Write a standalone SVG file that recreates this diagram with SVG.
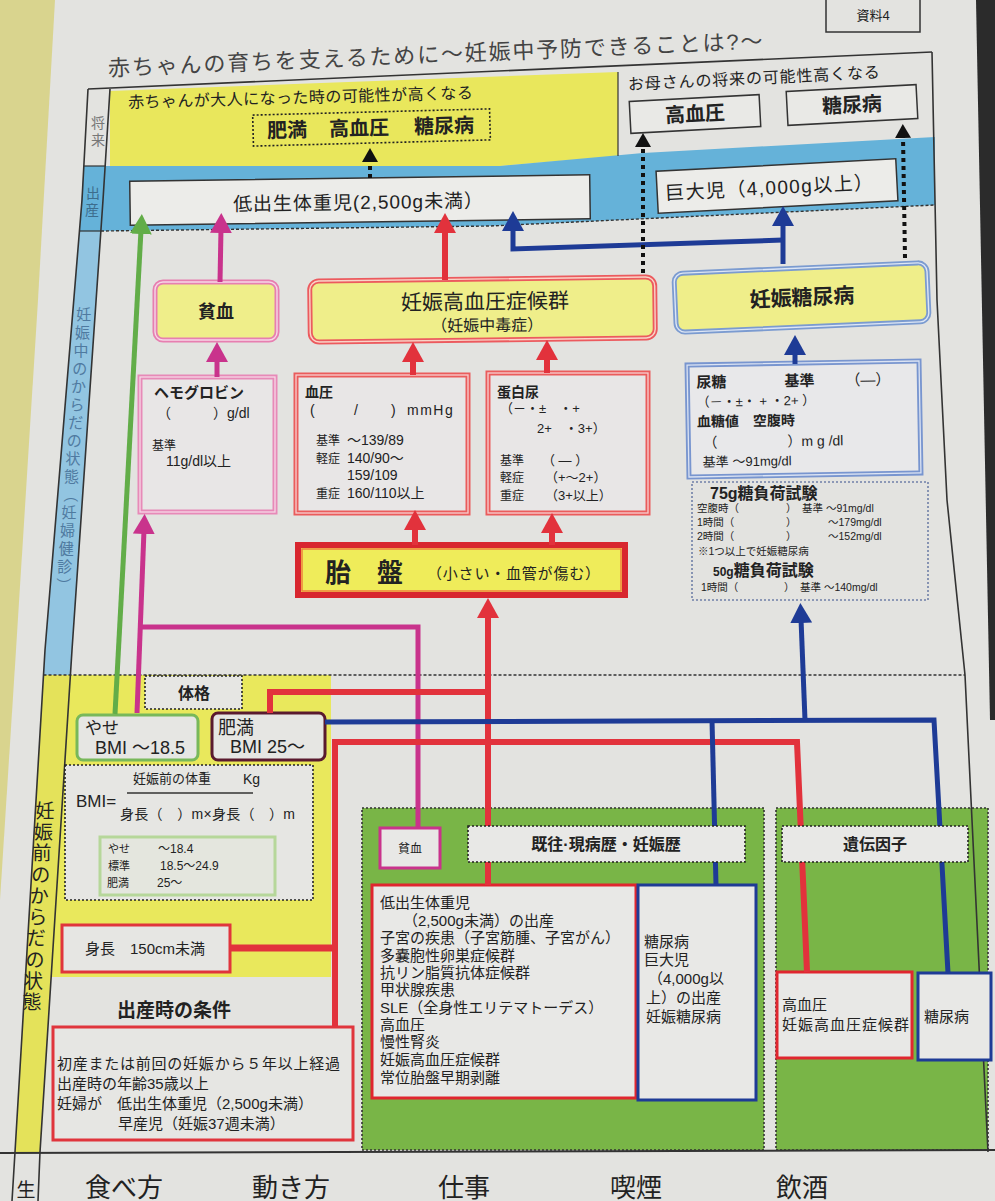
<svg xmlns="http://www.w3.org/2000/svg" width="995" height="1201" viewBox="0 0 995 1201">
<style>
.f{font-family:"Liberation Sans","Noto Sans CJK JP",sans-serif;fill:#222}
.b{font-weight:bold}
.m{text-anchor:middle}
.ln{fill:none}
.bx{fill:#e9e9e6}
.dot{fill:none;stroke:#222;stroke-width:1.6;stroke-dasharray:2 2}
.sq{fill:none;stroke:#111;stroke-width:4;stroke-dasharray:4 4}
</style>
<defs>
<marker id="ah-r" viewBox="0 0 20 22" refX="4" refY="11" markerWidth="20" markerHeight="22" markerUnits="userSpaceOnUse" orient="auto"><path d="M0,0 L20,11 L0,22z" fill="#e2323c"/></marker>
<marker id="ah-m" viewBox="0 0 20 22" refX="4" refY="11" markerWidth="20" markerHeight="22" markerUnits="userSpaceOnUse" orient="auto"><path d="M0,0 L20,11 L0,22z" fill="#c9338c"/></marker>
<marker id="ah-g" viewBox="0 0 20 22" refX="4" refY="11" markerWidth="20" markerHeight="22" markerUnits="userSpaceOnUse" orient="auto"><path d="M0,0 L20,11 L0,22z" fill="#62ad48"/></marker>
<marker id="ah-b" viewBox="0 0 20 22" refX="4" refY="11" markerWidth="20" markerHeight="22" markerUnits="userSpaceOnUse" orient="auto"><path d="M0,0 L20,11 L0,22z" fill="#1e3b96"/></marker>
<marker id="ah-k" viewBox="0 0 14 16" refX="2" refY="8" markerWidth="14" markerHeight="16" markerUnits="userSpaceOnUse" orient="auto"><path d="M0,0 L14,8 L0,16z" fill="#111"/></marker>
</defs>

<g id="background">
<rect width="995" height="1201" fill="#e3e3e0"/>
<polygon points="0,0 55,0 38,300 16,650 0,900" fill="#d9d48e"/>
<polygon points="976,0 995,0 995,720 990,720" fill="#2b2b2b"/>
</g>

<g id="frame">
<polygon points="110,91 618,72 618,156 500,166 110,166" fill="#e9e75c"/>
<polygon points="103,166 500,166 643,153 935,137 935,205 490,226 101,231" fill="#65b2d9"/>
<polygon points="79.5,231 100.9,231 72,650 70.4,675 43.5,675 45,650" fill="#92c5e1"/>
<polygon points="83.8,166 105.1,166 100.9,231 79.5,231" fill="#65b2d9"/>
<polygon points="43.5,675 70.4,675 40,1152 15,1152" fill="#e4e25a"/>
<polygon points="70.4,675 331,675 331,977 51.2,977" fill="#e9e85c"/>
<rect x="362" y="808" width="402" height="342" fill="#79b547" stroke="#333" stroke-width="1.6" stroke-dasharray="2 2"/>
<rect x="776" y="808" width="212" height="342" fill="#79b547" stroke="#333" stroke-width="1.6" stroke-dasharray="2 2"/>
<polyline class="ln" points="88,89 82,200 45,650 15,1152 12,1201" stroke="#333" stroke-width="1.6"/>
<polyline class="ln" points="110,89 103,200 72,650 40,1152 38,1201" stroke="#333" stroke-width="1.6"/>
<line x1="88" y1="89" x2="932" y2="52" stroke="#333" stroke-width="1.6"/>
<polyline class="ln" points="932,52 937,300 947,500 965,675 988,1152" stroke="#333" stroke-width="1.6"/>
<line x1="618" y1="72" x2="618" y2="156" stroke="#333" stroke-width="1.2"/>
<line x1="83.8" y1="166" x2="105.1" y2="166" stroke="#333" stroke-width="1.2"/>
<line x1="79.5" y1="231" x2="100.9" y2="231" stroke="#333" stroke-width="1.2"/>
<polyline class="ln" points="101,231 490,226 935,205" stroke="#333" stroke-width="1.4" stroke-dasharray="3 2"/>
<line x1="43.5" y1="675" x2="965" y2="675" stroke="#333" stroke-width="1.6" stroke-dasharray="3 2"/>
<line x1="0" y1="1153" x2="995" y2="1150" stroke="#333" stroke-width="2"/>
<text class="f m" x="98" y="128" font-size="14" style="fill:#777">将</text>
<text class="f m" x="98" y="145" font-size="14" style="fill:#777">来</text>
<text class="f m" x="93" y="198" font-size="14" style="fill:#3d6d8d">出</text>
<text class="f m" x="92" y="215" font-size="14" style="fill:#3d6d8d">産</text>
<g>
<text class="f m" x="83.8" y="320" font-size="15" style="fill:#4f7aa0">妊</text>
<text class="f m" x="82.5" y="338" font-size="15" style="fill:#4f7aa0">娠</text>
<text class="f m" x="81.1" y="356" font-size="15" style="fill:#4f7aa0">中</text>
<text class="f m" x="79.8" y="374" font-size="15" style="fill:#4f7aa0">の</text>
<text class="f m" x="78.4" y="392" font-size="15" style="fill:#4f7aa0">か</text>
<text class="f m" x="77.0" y="410" font-size="15" style="fill:#4f7aa0">ら</text>
<text class="f m" x="75.7" y="428" font-size="15" style="fill:#4f7aa0">だ</text>
<text class="f m" x="74.3" y="446" font-size="15" style="fill:#4f7aa0">の</text>
<text class="f m" x="73.0" y="464" font-size="15" style="fill:#4f7aa0">状</text>
<text class="f m" x="71.6" y="482" font-size="15" style="fill:#4f7aa0">態</text>
<text class="f m" x="70.2" y="500" font-size="15" transform="rotate(90 70.2 495)" style="fill:#4f7aa0">（</text>
<text class="f m" x="68.9" y="518" font-size="15" style="fill:#4f7aa0">妊</text>
<text class="f m" x="67.5" y="536" font-size="15" style="fill:#4f7aa0">婦</text>
<text class="f m" x="66.2" y="554" font-size="15" style="fill:#4f7aa0">健</text>
<text class="f m" x="64.8" y="572" font-size="15" style="fill:#4f7aa0">診</text>
<text class="f m" x="63.4" y="590" font-size="15" transform="rotate(90 63.4 585)" style="fill:#4f7aa0">）</text>
</g>
<text class="f m" x="45" y="818" font-size="19">妊</text>
<text class="f m" x="43.6" y="839" font-size="19">娠</text>
<text class="f m" x="42.1" y="860" font-size="19">前</text>
<text class="f m" x="40.7" y="882" font-size="19">の</text>
<text class="f m" x="39.2" y="903" font-size="19">か</text>
<text class="f m" x="37.8" y="924" font-size="19">ら</text>
<text class="f m" x="36.3" y="945" font-size="19">だ</text>
<text class="f m" x="34.9" y="967" font-size="19">の</text>
<text class="f m" x="33.4" y="988" font-size="19">状</text>
<text class="f m" x="32" y="1009" font-size="19">態</text>
<text class="f m" x="26" y="1197" font-size="19">生</text>
</g>

<g id="title">
<text class="f" x="108" y="76" font-size="22" textLength="655" transform="rotate(-2.4 108 68)" style="fill:#444">赤ちゃんの育ちを支えるために～妊娠中予防できることは?～</text>
</g>
<g id="doc-label">
<rect x="826" y="-4" width="94" height="36" fill="none" stroke="#333" stroke-width="1.5"/>
<text class="f m" x="873" y="20" font-size="13">資料4</text>
</g>

<g id="future-child">
<text class="f" x="128" y="108" font-size="16" textLength="345" transform="rotate(-1.6 128 102)">赤ちゃんが大人になった時の可能性が高くなる</text>
<g transform="rotate(-1.5 371 127)">
<rect class="dot" x="253" y="112" width="237" height="31" style="fill:#e9e75c"/>
<text class="f b" x="267" y="135" font-size="20">肥満</text>
<text class="f b" x="329" y="135" font-size="20">高血圧</text>
<text class="f b" x="414" y="135" font-size="20">糖尿病</text>
</g>
</g>
<g id="future-mother">
<text class="f" x="628" y="90" font-size="16" textLength="252" transform="rotate(-2.8 628 84)">お母さんの将来の可能性高くなる</text>
</g>
<g id="mother-htn">
<g transform="rotate(-3 695 114)">
<rect class="bx" x="630" y="98" width="130" height="32" stroke="#333" stroke-width="1.5"/>
<text class="f b m" x="695" y="121" font-size="20">高血圧</text>
</g>
</g>
<g id="mother-dm">
<g transform="rotate(-3 852 105)">
<rect class="bx" x="787" y="88" width="130" height="34" stroke="#333" stroke-width="1.5"/>
<text class="f b m" x="852" y="112" font-size="20">糖尿病</text>
</g>
</g>

<g id="lbw">
<g transform="rotate(-0.8 360 200)">
<rect x="130" y="178" width="460" height="44" fill="#ecece9" stroke="#333" stroke-width="1.5"/>
<text class="f" x="233" y="209" font-size="19" textLength="250">低出生体重児(2,500g未満）</text>
</g>
</g>
<g id="macrosomia">
<g transform="rotate(-3 777 186)">
<rect x="657" y="165" width="240" height="42" fill="#ecece9" stroke="#333" stroke-width="1.5"/>
<text class="f" x="665" y="194" font-size="19" textLength="208">巨大児（4,000g以上）</text>
</g>
</g>

<g id="anemia">
<rect x="155" y="282" width="122" height="58" rx="8" fill="#efee8a" stroke="#e77fb0" stroke-width="5"/>
<rect x="155" y="282" width="122" height="58" rx="8" fill="none" stroke="#f6d8e6" stroke-width="1.4"/>
<text class="f b m" x="216" y="318" font-size="18">貧血</text>
</g>
<g id="pih">
<g transform="rotate(-0.7 482 310)">
<rect x="310" y="279" width="345" height="61" rx="9" fill="#efee8a" stroke="#ec5a5e" stroke-width="5"/>
<rect x="310" y="279" width="345" height="61" rx="9" fill="none" stroke="#f9d4c8" stroke-width="1.4"/>
<text class="f m" x="485" y="309" font-size="21">妊娠高血圧症候群</text>
<text class="f m" x="487" y="331" font-size="16">（妊娠中毒症）</text>
</g>
</g>
<g id="gdm">
<g transform="rotate(-2.5 801 297)">
<rect x="675" y="268" width="253" height="59" rx="9" fill="#efee8a" stroke="#7b9bd0" stroke-width="5"/>
<rect x="675" y="268" width="253" height="59" rx="9" fill="none" stroke="#dde6f5" stroke-width="1.4"/>
<text class="f b m" x="802" y="305" font-size="21">妊娠糖尿病</text>
</g>
</g>

<g id="hemoglobin">
<rect x="140" y="377" width="135" height="135" fill="#e8e6e6" stroke="#e78ab8" stroke-width="5"/>
<rect x="140" y="377" width="135" height="135" fill="none" stroke="#f6d8e6" stroke-width="1.3"/>
<text class="f b" x="154" y="398" font-size="15">ヘモグロビン</text>
<text class="f" x="157" y="418" font-size="14">（　　　）g/dl</text>
<text class="f" x="152" y="450" font-size="12">基準</text>
<text class="f" x="166" y="466" font-size="14">11g/dl以上</text>
</g>
<g id="bp">
<rect x="296" y="375" width="172" height="138" fill="#e8e6e6" stroke="#ea5c5c" stroke-width="5"/>
<rect x="296" y="375" width="172" height="138" fill="none" stroke="#f7cfcf" stroke-width="1.3"/>
<text class="f b" x="305" y="397" font-size="14">血圧</text>
<text class="f" x="310" y="415" font-size="14">(</text>
<text class="f" x="354" y="415" font-size="14">/</text>
<text class="f" x="391" y="415" font-size="14">)</text>
<text class="f" x="407" y="415" font-size="14" letter-spacing="1.5">mmHg</text>
<text class="f" x="316" y="445" font-size="12">基準</text>
<text class="f" x="347" y="445" font-size="14">～139/89</text>
<text class="f" x="316" y="463" font-size="12">軽症</text>
<text class="f" x="347" y="463" font-size="14">140/90～</text>
<text class="f" x="347" y="480" font-size="14">159/109</text>
<text class="f" x="316" y="498" font-size="12">重症</text>
<text class="f" x="347" y="498" font-size="14">160/110以上</text>
</g>
<g id="proteinuria">
<rect x="488" y="373" width="160" height="140" fill="#e8e6e6" stroke="#ea5c5c" stroke-width="5"/>
<rect x="488" y="373" width="160" height="140" fill="none" stroke="#f7cfcf" stroke-width="1.3"/>
<text class="f b" x="497" y="397" font-size="14">蛋白尿</text>
<text class="f" x="500" y="413" font-size="13">（－・±　・+</text>
<text class="f" x="537" y="433" font-size="13">2+　・3+）</text>
<text class="f" x="500" y="465" font-size="12">基準</text>
<text class="f" x="542" y="465" font-size="13">（ ― ）</text>
<text class="f" x="500" y="482" font-size="12">軽症</text>
<text class="f" x="545" y="482" font-size="13">（+～2+）</text>
<text class="f" x="500" y="500" font-size="12">重症</text>
<text class="f" x="545" y="500" font-size="13">（3+以上）</text>
</g>
<g id="placenta">
<rect x="298" y="545" width="327" height="50" fill="#efec5a" stroke="#d8262f" stroke-width="6"/>
<rect x="302" y="549" width="319" height="42" fill="none" stroke="#ef7a3a" stroke-width="1.4"/>
<text class="f b" x="325" y="582" font-size="26">胎　盤</text>
<text class="f" x="427" y="579" font-size="15" textLength="173">（小さい・血管が傷む）</text>
</g>
<g id="urine-sugar">
<g transform="rotate(-1 804 419)">
<rect x="688" y="363" width="232" height="112" fill="#e8e8ea" stroke="#7895cf" stroke-width="5"/>
<rect x="688" y="363" width="232" height="112" fill="none" stroke="#dbe3f3" stroke-width="1.3"/>
<text class="f b" x="697" y="386" font-size="15">尿糖</text>
<text class="f b" x="785" y="386" font-size="15">基準</text>
<text class="f" x="846" y="386" font-size="15">（―）</text>
<text class="f" x="697" y="405" font-size="13">（－・±・ + ・2+ ）</text>
<text class="f b" x="697" y="425" font-size="14">血糖値　空腹時</text>
<text class="f" x="703" y="446" font-size="14">（　　　　　）m g /dl</text>
<text class="f" x="702" y="465" font-size="13">基準 ～91mg/dl</text>
</g>
</g>
<g id="ogtt">
<rect class="dot" x="692" y="482" width="236" height="118" style="stroke:#7080a8"/>
<text class="f b" x="710" y="499" font-size="16">75g糖負荷試験</text>
<text class="f" x="697" y="512" font-size="10.5">空腹時（</text>
<text class="f" x="786" y="512" font-size="10.5">）</text>
<text class="f" x="802" y="512" font-size="10.5">基準 ～91mg/dl</text>
<text class="f" x="697" y="526" font-size="10.5">1時間（</text>
<text class="f" x="786" y="526" font-size="10.5">）</text>
<text class="f" x="828" y="526" font-size="10.5">～179mg/dl</text>
<text class="f" x="697" y="540" font-size="10.5">2時間（</text>
<text class="f" x="786" y="540" font-size="10.5">）</text>
<text class="f" x="828" y="540" font-size="10.5">～152mg/dl</text>
<text class="f" x="698" y="555" font-size="10.5">※1つ以上で妊娠糖尿病</text>
<text class="f b" x="713" y="576" font-size="16"><tspan font-size="12">50g</tspan>糖負荷試験</text>
<text class="f" x="701" y="591" font-size="10.5">1時間（</text>
<text class="f" x="784" y="591" font-size="10.5">）</text>
<text class="f" x="800" y="591" font-size="10.5">基準 ～140mg/dl</text>
</g>

<g id="physique-label">
<rect class="dot" x="145" y="676" width="97" height="33" style="fill:#e6e6e3"/>
<text class="f b m" x="194" y="699" font-size="16">体格</text>
</g>
<g id="thin">
<rect x="77" y="715" width="121" height="45" rx="6" fill="#e6e6e3" stroke="#78b85a" stroke-width="3"/>
<text class="f" x="85" y="734" font-size="17">やせ</text>
<text class="f" x="95" y="754" font-size="18">BMI ～18.5</text>
</g>
<g id="obese">
<rect x="212" y="713" width="113" height="47" rx="6" fill="#e6e6e3" stroke="#5a1a2e" stroke-width="3"/>
<text class="f" x="218" y="734" font-size="18">肥満</text>
<text class="f" x="230" y="753" font-size="18">BMI 25～</text>
</g>
<g id="bmi-formula">
<rect class="dot" x="65" y="765" width="248" height="135" style="fill:#e6e6e3"/>
<text class="f" x="133" y="783" font-size="13">妊娠前の体重</text>
<text class="f" x="243" y="784" font-size="14">Kg</text>
<line x1="127" y1="793" x2="253" y2="793" stroke="#333" stroke-width="1.3"/>
<text class="f" x="76" y="807" font-size="17">BMI=</text>
<text class="f" x="120" y="819" font-size="14" textLength="175">身長（　）m×身長（　）m</text>
<rect x="100" y="837" width="175" height="58" fill="#e4e6de" stroke="#b6d79a" stroke-width="3"/>
<text class="f" x="108" y="853" font-size="11">やせ</text>
<text class="f" x="158" y="853" font-size="12">～18.4</text>
<text class="f" x="108" y="870" font-size="11">標準</text>
<text class="f" x="160" y="870" font-size="12">18.5～24.9</text>
<text class="f" x="107" y="887" font-size="11">肥満</text>
<text class="f" x="157" y="887" font-size="12">25～</text>
</g>
<g id="height">
<rect x="62" y="925" width="168" height="47" fill="#e6e6e3" stroke="#e0353c" stroke-width="3"/>
<text class="f" x="85" y="954" font-size="15">身長　150cm未満</text>
</g>
<g id="birth-conditions">
<text class="f b" x="117" y="1017" font-size="19">出産時の条件</text>
<rect x="53" y="1027" width="300" height="113" fill="#e6e6e3" stroke="#e0353c" stroke-width="3"/>
<text class="f" x="57" y="1069" font-size="15" textLength="283">初産または前回の妊娠から５年以上経過</text>
<text class="f" x="57" y="1089" font-size="15">出産時の年齢35歳以上</text>
<text class="f" x="57" y="1109" font-size="15">妊婦が　低出生体重児（2,500g未満）</text>
<text class="f" x="118" y="1129" font-size="15">早産児（妊娠37週未満）</text>
</g>

<g id="history-box">
<rect x="372" y="885" width="264" height="213" fill="#e8e8e6" stroke="#e0262f" stroke-width="3"/>
<g font-size="15">
<text class="f" x="380" y="908">低出生体重児</text>
<text class="f" x="403" y="926">（2,500g未満）の出産</text>
<text class="f" x="380" y="943">子宮の疾患（子宮筋腫、子宮がん）</text>
<text class="f" x="380" y="961">多嚢胞性卵巣症候群</text>
<text class="f" x="380" y="978">抗リン脂質抗体症候群</text>
<text class="f" x="380" y="995">甲状腺疾患</text>
<text class="f" x="380" y="1013">SLE（全身性エリテマトーデス）</text>
<text class="f" x="380" y="1030">高血圧</text>
<text class="f" x="380" y="1047">慢性腎炎</text>
<text class="f" x="380" y="1065">妊娠高血圧症候群</text>
<text class="f" x="380" y="1083">常位胎盤早期剥離</text>
</g>
</g>
<g id="history-dm-box">
<rect x="638" y="885" width="118" height="215" fill="#e8e8e6" stroke="#1e3b96" stroke-width="3"/>
<g font-size="15">
<text class="f" x="644" y="947">糖尿病</text>
<text class="f" x="644" y="965">巨大児</text>
<text class="f" x="648" y="984">（4,000g以</text>
<text class="f" x="646" y="1003">上）の出産</text>
<text class="f" x="646" y="1022">妊娠糖尿病</text>
</g>
</g>
<g id="hered-htn">
<rect x="777" y="972" width="135" height="86" fill="#e8e8e6" stroke="#e0262f" stroke-width="3"/>
<text class="f" x="782" y="1010" font-size="15">高血圧</text>
<text class="f" x="782" y="1030" font-size="15" textLength="127">妊娠高血圧症候群</text>
</g>
<g id="hered-dm">
<rect x="918" y="973" width="73" height="87" fill="#e8e8e6" stroke="#1e3b96" stroke-width="3"/>
<text class="f" x="924" y="1022" font-size="15">糖尿病</text>
</g>

<g id="connectors" fill="none">
<path d="M115,714 L141,230" stroke="#62ad48" stroke-width="5" marker-end="url(#ah-g)"/>
<path d="M137,713 L144,530" stroke="#c9338c" stroke-width="5" marker-end="url(#ah-m)"/>
<path d="M139,627 L418,627 L418,828" stroke="#c9338c" stroke-width="5"/>
<path d="M217,377 L217,358" stroke="#c9338c" stroke-width="5" marker-end="url(#ah-m)"/>
<path d="M220,282 L221,229" stroke="#c9338c" stroke-width="5" marker-end="url(#ah-m)"/>
<path d="M413,375 L413,358" stroke="#e2323c" stroke-width="6" marker-end="url(#ah-r)"/>
<path d="M547,373 L547,356" stroke="#e2323c" stroke-width="6" marker-end="url(#ah-r)"/>
<path d="M445,280 L445,229" stroke="#e2323c" stroke-width="6" marker-end="url(#ah-r)"/>
<path d="M415,545 L415,526" stroke="#e2323c" stroke-width="6" marker-end="url(#ah-r)"/>
<path d="M552,545 L552,529" stroke="#e2323c" stroke-width="6" marker-end="url(#ah-r)"/>
<path d="M488,885 L488,614" stroke="#e2323c" stroke-width="6" marker-end="url(#ah-r)"/>
<path d="M270,713 L270,692 L488,692" stroke="#e2323c" stroke-width="6"/>
<path d="M335,1027 L335,742 L797,742 L807,972" stroke="#e2323c" stroke-width="6"/>
<path d="M230,948 L338,948" stroke="#e2323c" stroke-width="7"/>
<path d="M795,364 L795,351" stroke="#1e3b96" stroke-width="5" marker-end="url(#ah-b)"/>
<path d="M783,264 L783,222" stroke="#1e3b96" stroke-width="5" marker-end="url(#ah-b)"/>
<path d="M783,240 L513,249 L513,227" stroke="#1e3b96" stroke-width="5" marker-end="url(#ah-b)"/>
<path d="M325,722 L934,720 L948,973" stroke="#1e3b96" stroke-width="5"/>
<path d="M805,720 L801,619" stroke="#1e3b96" stroke-width="5" marker-end="url(#ah-b)"/>
<path d="M712,720 L716,885" stroke="#1e3b96" stroke-width="5"/>
<path d="M370,178 L370,160" class="sq" marker-end="url(#ah-k)"/>
<path d="M643,273 L643,145" class="sq" marker-end="url(#ah-k)"/>
<path d="M905,258 L903,136" class="sq" marker-end="url(#ah-k)"/>
</g>

<g id="anemia-small">
<rect x="380" y="828" width="60" height="40" fill="#e8e8e6" stroke="#c9338c" stroke-width="3"/>
<text class="f m" x="410" y="853" font-size="12">貧血</text>
</g>
<g id="history-label">
<rect class="dot" x="468" y="826" width="277" height="36" style="fill:#e8e8e6"/>
<text class="f b m" x="606" y="850" font-size="16">既往·現病歴・妊娠歴</text>
</g>
<g id="heredity-label">
<rect class="dot" x="782" y="826" width="186" height="36" style="fill:#e8e8e6"/>
<text class="f b m" x="875" y="850" font-size="16">遺伝因子</text>
</g>

<g id="lifestyle">
<text class="f" x="85" y="1197" font-size="26">食べ方</text>
<text class="f" x="252" y="1197" font-size="26">動き方</text>
<text class="f" x="438" y="1197" font-size="26">仕事</text>
<text class="f" x="610" y="1197" font-size="26">喫煙</text>
<text class="f" x="776" y="1197" font-size="26">飲酒</text>
</g>
</svg>
